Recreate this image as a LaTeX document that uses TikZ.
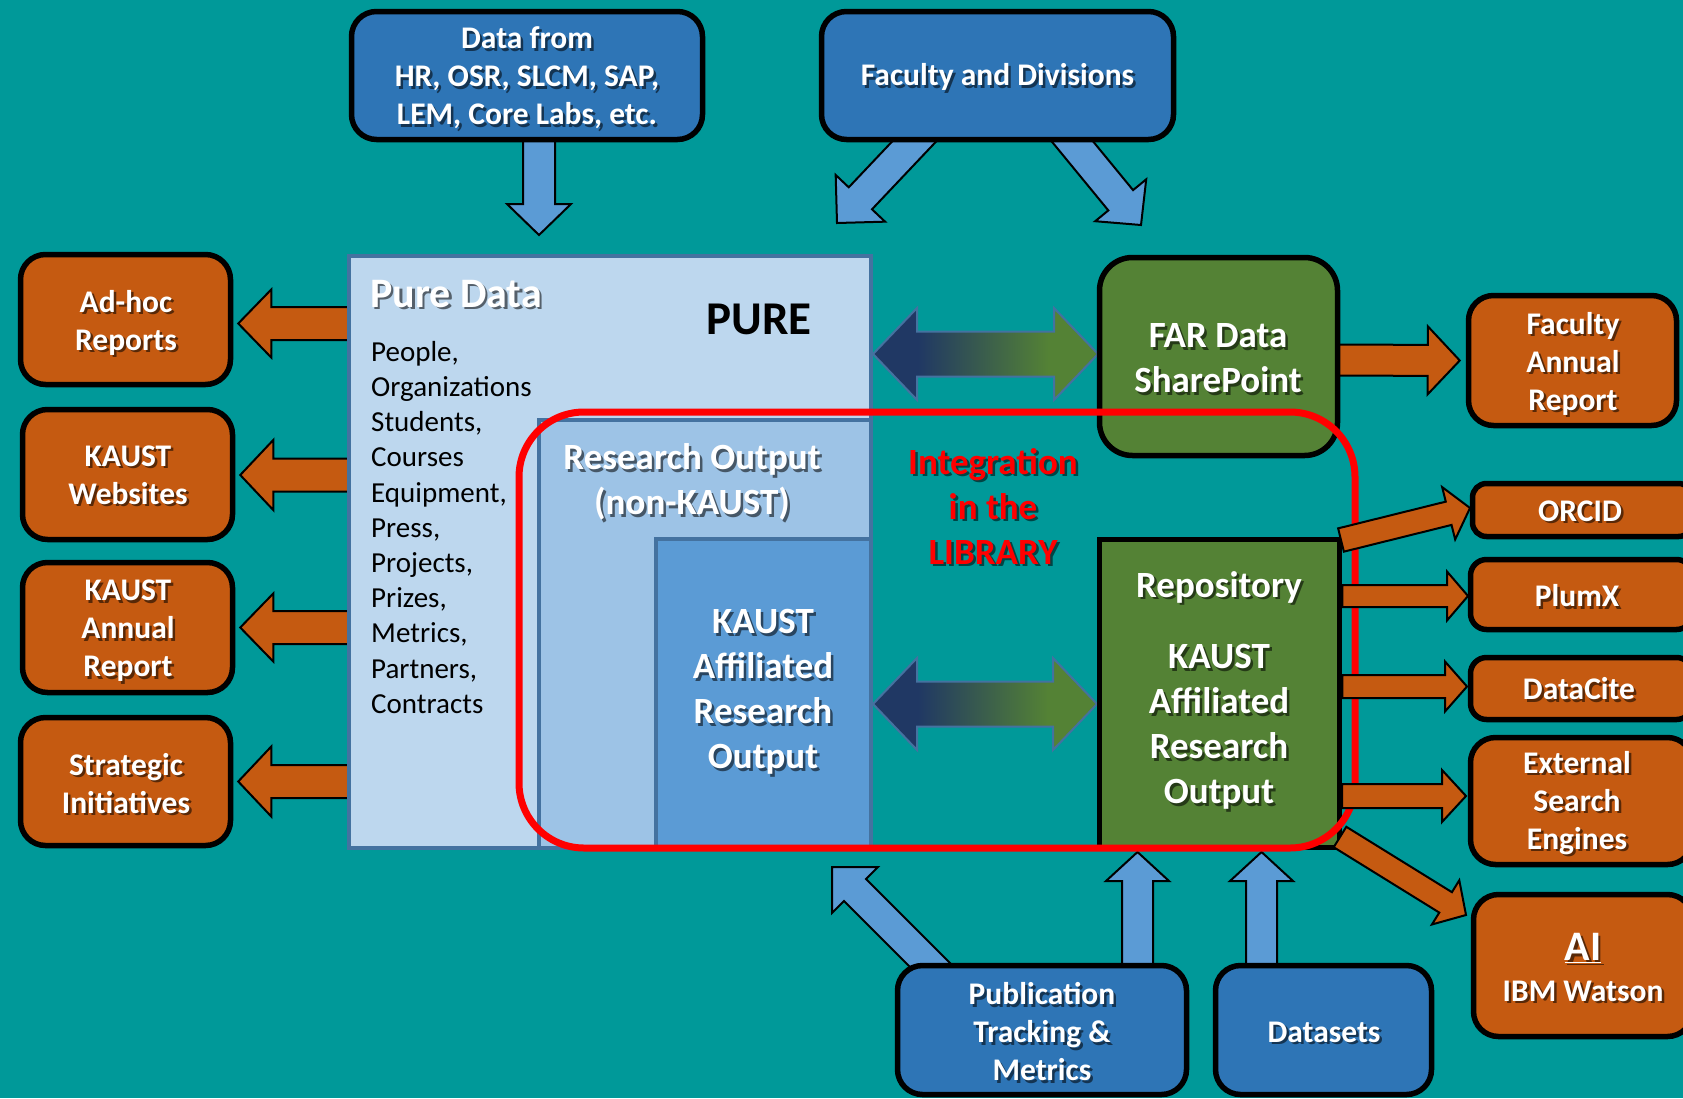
\documentclass[tikz,border=0pt]{standalone}
\usepackage{fontspec}
\setmainfont{Carlito}
\usetikzlibrary{calc}
\definecolor{bgc}{RGB}{0,153,153}
\definecolor{orng}{RGB}{197,90,17}
\definecolor{bbx}{RGB}{46,117,182}
\definecolor{barc}{RGB}{91,155,213}
\definecolor{grn}{RGB}{84,130,53}
\definecolor{dnavy}{RGB}{32,56,100}
\definecolor{pl}{RGB}{189,215,238}
\definecolor{rl}{RGB}{157,195,230}
\definecolor{kb}{RGB}{91,155,213}
\definecolor{sb}{RGB}{68,114,160}
\pgfdeclarehorizontalshading{dblsh}{100bp}{color(0bp)=(dnavy); color(35bp)=(dnavy); color(64bp)=(grn); color(100bp)=(grn)}
\pgfdeclarelayer{back}
\pgfdeclarelayer{under}
\pgfdeclarelayer{redl}
\pgfdeclarelayer{over}
\pgfsetlayers{back,under,main,redl,over}
% block arrow: style, start, tip, shaft half width, head half width, head length
\newcommand\blockarrow[6]{%
  \coordinate (bac) at ($(#3)!#6!(#2)$);
  \draw[#1] ($(#2)!#4!90:(#3)$) -- ($(bac)!#4!90:(#3)$) -- ($(bac)!#5!90:(#3)$) -- (#3)
    -- ($(bac)!#5!-90:(#3)$) -- ($(bac)!#4!-90:(#3)$) -- ($(#2)!#4!-90:(#3)$) -- cycle;}
% double arrow: style, tip A, tip B, shaft half, head half, head length
\newcommand\dblarrow[6]{%
  \coordinate (dac) at ($(#2)!#6!(#3)$);
  \coordinate (dad) at ($(#3)!#6!(#2)$);
  \shadedraw[#1] (#2) -- ($(dac)!#5!90:(#3)$) -- ($(dac)!#4!90:(#3)$) -- ($(dad)!#4!-90:(#2)$)
    -- ($(dad)!#5!-90:(#2)$) -- (#3) -- ($(dad)!#5!90:(#2)$) -- ($(dad)!#4!90:(#2)$)
    -- ($(dac)!#4!-90:(#3)$) -- ($(dac)!#5!-90:(#3)$) -- cycle;}
% text with shadow: [style], position, name, text
\newcommand\stx[4][]{%
  \node[wt,#1,text=black,text opacity=0.55] at ($(#2)+(2.5,2.5)$) {#4};
  \node[wt,#1] (#3) at (#2) {#4};}
\begin{document}
\begin{tikzpicture}[x=1pt,y=-1pt,
  box/.style={draw=black, line width=5.5pt, rounded corners=25pt, inner sep=0pt},
  obox/.style={box, fill=orng},
  bbox/.style={box, fill=bbx},
  gbox/.style={box, fill=grn},
  pbox/.style={draw=sb, line width=4pt, inner sep=0pt},
  oarr/.style={fill=orng, draw=black, line width=2pt},
  barr/.style={fill=barc, draw=black, line width=2pt},
  darr/.style={shading=dblsh, draw=sb, line width=2pt},
  wt/.style={text=white, font=\bfseries\fontsize{31.5}{38}\selectfont, align=center, inner sep=0pt},
  wtl/.style={font=\bfseries\fontsize{37}{45}\selectfont},
  ]
\begin{pgfonlayer}{back}
\fill[bgc] (0,0) rectangle (1683,1098);
\end{pgfonlayer}
\useasboundingbox (0,0) rectangle (1683,1098);
\clip (0,0) rectangle (1683,1098);

% ---------- PURE boxes ----------
\node[pbox, fill=pl, minimum width=522pt, minimum height=592pt] (pure) at (610,552) {};
\node[pbox, fill=rl, minimum width=332pt, minimum height=428pt] (resout) at (705,634) {};
\node[pbox, fill=kb, minimum width=215pt, minimum height=309pt] (kaust) at (763.5,693.5) {};

% ---------- boxes ----------
\node[bbox, minimum width=351pt, minimum height=128pt] (data) at (527,75.5) {};
\node[bbox, minimum width=352pt, minimum height=128pt] (fac) at (997.5,75.5) {};
\node[obox, minimum width=210pt, minimum height=130pt] (adhoc) at (125.5,319.5) {};
\node[obox, minimum width=210pt, minimum height=130pt] (web) at (127.5,474.5) {};
\node[obox, minimum width=210pt, minimum height=130pt] (annual) at (127.5,627.5) {};
\node[obox, minimum width=210pt, minimum height=128pt] (strat) at (125.5,781.5) {};
\node[gbox, rounded corners=33pt, minimum width=238pt, minimum height=198pt] (far) at (1218.5,356.5) {};
\node[obox, minimum width=208pt, minimum height=130pt] (farann) at (1572.5,360.5) {};
\node[obox, rounded corners=14pt, minimum width=220pt, minimum height=53pt] (orcid) at (1582.5,510) {};
\node[obox, rounded corners=16pt, minimum width=222pt, minimum height=70pt] (plumx) at (1581.5,594.5) {};
\node[obox, rounded corners=16pt, minimum width=222pt, minimum height=62pt] (datacite) at (1581.5,688.5) {};
\node[obox, minimum width=222pt, minimum height=127pt] (ext) at (1581.5,801) {};
\node[obox, minimum width=219pt, minimum height=142pt] (ai) at (1583,965.5) {};
\node[gbox, sharp corners, minimum width=240pt, minimum height=308pt] (repo) at (1219.5,693.5) {};
\node[bbox, minimum width=289pt, minimum height=129pt] (pub) at (1042,1030) {};
\node[bbox, minimum width=216pt, minimum height=129pt] (dset) at (1323.5,1030) {};

% ---------- texts ----------
\stx[font=\bfseries\fontsize{42}{50}\selectfont, anchor=west]{370,294}{tpuredata}{Pure Data}
\node[font=\bfseries\fontsize{47}{56}\selectfont, inner sep=0pt] (tpure) at (759,319) {PURE};
\node[anchor=north west, align=left, inner sep=0pt, font=\fontsize{29}{35.2}\selectfont] (tlist) at (371,341)
  {People,\\Organizations\\Students,\\Courses\\Equipment,\\Press,\\Projects,\\Prizes,\\Metrics,\\Partners,\\Contracts};
\stx[wtl]{692,482}{tro}{Research Output\\(non-KAUST)}
\stx[wtl]{763,692}{tka}{KAUST\\Affiliated\\Research\\Output}
\stx{527,78}{tdata}{Data from\\HR, OSR, SLCM, SAP,\\LEM, Core Labs, etc.}
\stx{997.5,77}{tfac}{Faculty and Divisions}
\stx{126,322.5}{tadhoc}{Ad-hoc\\Reports}
\stx{128,475}{tweb}{KAUST\\Websites}
\stx{128,631}{tann}{KAUST\\Annual\\Report}
\stx{126,783.5}{tstrat}{Strategic\\Initiatives}
\stx{1573,363.5}{tfarann}{Faculty\\Annual\\Report}
\stx{1580,511}{torcid}{ORCID}
\stx{1577,596}{tplumx}{PlumX}
\stx{1579,689}{tdc}{DataCite}
\stx{1577,803}{tse}{External\\Search\\Engines}
\stx[font=\bfseries\fontsize{42}{50}\selectfont]{1583,948}{tai}{\underline{AI}}
\stx{1583,991}{tibm}{IBM Watson}
\stx{1042,1032}{tpub}{Publication\\Tracking \&\\Metrics}
\stx{1324,1032}{tds}{Datasets}
\stx[wtl]{1218,358.5}{tfar}{FAR Data\\SharePoint}
\stx[wtl]{1219,587}{trepo}{Repository}
\stx[wtl]{1219,727}{trepo2}{KAUST\\Affiliated\\Research\\Output}
\stx[wtl,text=red]{993,506}{tint}{Integration\\in the\\LIBRARY}

% ---------- connectors under the boxes ----------
\begin{pgfonlayer}{under}
\coordinate (s-data) at ($(data.south)+(12,-12)$);
\coordinate (t-data) at (539,235);
\blockarrow{barr}{s-data}{t-data}{16pt}{32pt}{31pt}
\coordinate (s-fl) at (925,130);
\coordinate (t-fl) at (837,223);
\blockarrow{barr}{s-fl}{t-fl}{16pt}{34pt}{34pt}
\coordinate (s-fr) at (1063,130);
\coordinate (t-fr) at (1141,225);
\blockarrow{barr}{s-fr}{t-fr}{16pt}{33pt}{32pt}
\coordinate (s-pu) at (940,975);
\coordinate (t-pu) at (832,867);
\blockarrow{barr}{s-pu}{t-pu}{15.5pt}{32.5pt}{32.5pt}
\coordinate (s-pr) at (1137.5,975);
\coordinate (t-pr) at (1137.5,852);
\blockarrow{barr}{s-pr}{t-pr}{15.5pt}{31.5pt}{29pt}
\coordinate (s-dr) at (1261.5,975);
\coordinate (t-dr) at (1261.5,852);
\blockarrow{barr}{s-dr}{t-dr}{15.5pt}{31.5pt}{29pt}
% left orange arrows
\coordinate (s-l1) at (362,323.5);  \coordinate (t-l1) at ($(adhoc.east)+(5,4)$);
\blockarrow{oarr}{s-l1}{t-l1}{16.5pt}{34pt}{33pt}
\coordinate (s-l2) at (362,475);    \coordinate (t-l2) at ($(web.east)+(5,0.5)$);
\blockarrow{oarr}{s-l2}{t-l2}{16.5pt}{35pt}{33pt}
\coordinate (s-l3) at (362,627.5);  \coordinate (t-l3) at ($(annual.east)+(5,0)$);
\blockarrow{oarr}{s-l3}{t-l3}{16.5pt}{34pt}{33pt}
\coordinate (s-l4) at (362,781.5);  \coordinate (t-l4) at ($(strat.east)+(5,0)$);
\blockarrow{oarr}{s-l4}{t-l4}{16.5pt}{35pt}{33pt}
% FAR -> Faculty Annual Report
\coordinate (s-fa) at (1330,360);
\coordinate (t-fa) at ($(farann.west)+(-6,0)$);
\blockarrow{oarr}{s-fa}{t-fa}{15.5pt}{34pt}{32pt}
% double arrows
\coordinate (d1a) at (873,354);
\coordinate (d1b) at (1098,354);
\dblarrow{darr}{d1a}{d1b}{22.5pt}{46pt}{44pt}
\coordinate (d2a) at (873,704);
\coordinate (d2b) at (1097,704);
\dblarrow{darr}{d2a}{d2b}{22.5pt}{46pt}{44pt}
\end{pgfonlayer}

% ---------- red frame ----------
\begin{pgfonlayer}{redl}
\node[draw=red, line width=7pt, rounded corners=65pt, minimum width=836pt, minimum height=436pt, inner sep=0pt] (lib) at (937,630) {};
\end{pgfonlayer}

% ---------- arrows from repository ----------
\begin{pgfonlayer}{over}
\coordinate (s-or) at (1341,540);
\coordinate (t-or) at (1470,508);
\blockarrow{oarr}{s-or}{t-or}{12pt}{27pt}{22pt}
\coordinate (s-pl) at (repo.east |- 0,596);
\coordinate (t-pl) at (1468,596);
\blockarrow{oarr}{s-pl}{t-pl}{11pt}{24.5pt}{21pt}
\coordinate (s-dc) at (repo.east |- 0,686.5);
\coordinate (t-dc) at (1467,686.5);
\blockarrow{oarr}{s-dc}{t-dc}{11.5pt}{25pt}{22pt}
\coordinate (s-se) at (1342,796);
\coordinate (t-se) at (1466,796);
\blockarrow{oarr}{s-se}{t-se}{12pt}{26pt}{24pt}
\coordinate (s-ai) at (1340,837);
\coordinate (t-ai) at (1466,915);
\blockarrow{oarr}{s-ai}{t-ai}{12pt}{26pt}{24pt}
\end{pgfonlayer}
\end{tikzpicture}
\end{document}
